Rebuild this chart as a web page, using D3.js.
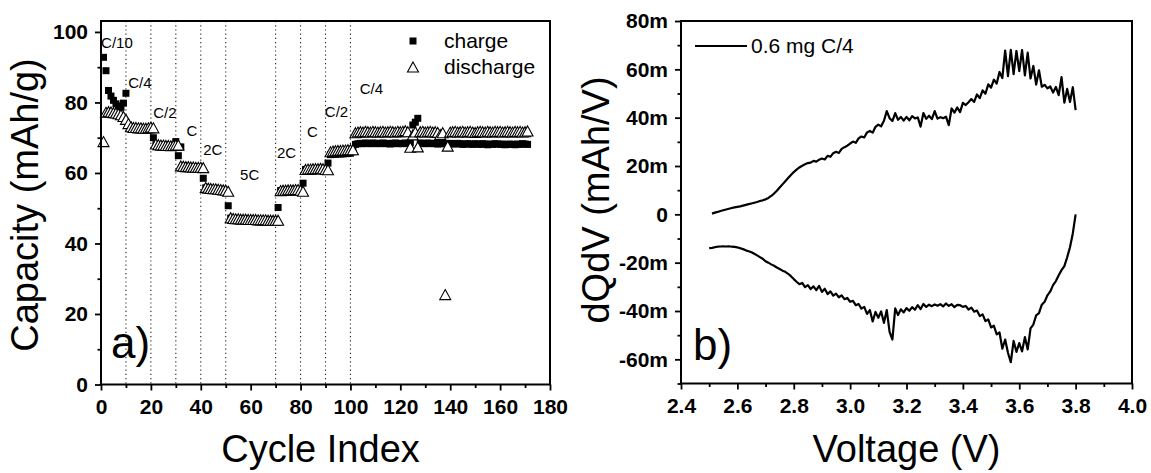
<!DOCTYPE html>
<html>
<head>
<meta charset="utf-8">
<script src="https://cdn.jsdelivr.net/npm/d3@7"></script>
<style>
  body { margin: 0; background: #fff; }
  svg { font-family: "Liberation Sans", Arial, sans-serif; }
  .tick text { font-weight: 700; font-size: 21px; font-family: "Liberation Sans Narrow", "Liberation Sans", Arial, sans-serif; }
</style>
</head>
<body>
<script>
// ---- panel a : rate capability (cycle index 1..171) ----
const chargeCap = [
  92.8, 89.0, 83.4, 81.8, 80.6, 79.6, 79.0, 78.6, 79.8, 82.6,
  73.6, 72.9, 72.8, 72.8, 72.7, 72.7, 72.6, 72.6, 72.6, 72.7,
  70.0, 68.0, 67.9, 67.9, 67.8, 67.8, 67.7, 67.7, 67.7, 68.9,
  64.9, 67.4, 62.0, 61.9, 61.8, 61.8, 61.7, 61.7, 61.6, 61.6,
  58.5, 55.8, 55.6, 55.5, 55.5, 55.4, 55.3, 55.3, 55.2, 55.1,
  50.7, 47.2, 47.0, 47.0, 46.9, 46.9, 46.9, 46.8, 46.8, 46.8,
  46.8, 46.7, 46.7, 46.7, 46.7, 46.7, 46.6, 46.6, 46.6, 46.6,
  50.2, 55.0, 55.0, 55.1, 55.1, 55.1, 55.2, 55.2, 55.2, 55.2,
  57.1, 61.0, 61.0, 61.1, 61.1, 61.1, 61.2, 61.2, 61.2, 61.2,
  62.8, 65.2, 65.3, 65.3, 65.4, 65.4, 65.4, 65.5, 65.5, 65.6,
  66.2, 68.1, 68.3, 68.4, 68.3, 68.5, 68.4, 68.3, 68.5, 68.4,
  68.3, 68.4, 68.5, 68.3, 68.4, 68.2, 68.4, 68.5, 68.3, 68.4,
  68.3, 68.5, 68.4, 68.6, 73.6, 74.4, 75.5, 68.5, 68.4, 68.3,
  68.5, 68.4, 68.3, 68.4, 68.2, 68.3, 68.4, 68.3, 68.2, 68.4,
  68.3, 68.2, 68.4, 68.3, 68.1, 68.2, 68.3, 68.2, 68.1, 68.3,
  68.2, 68.1, 68.3, 68.2, 68.0, 68.2, 68.1, 68.3, 68.2, 68.1,
  68.2, 68.0, 68.1, 68.2, 68.1, 68.0, 68.2, 68.1, 68.3, 68.2,
  68.1
];
const dischargeCap = [
  68.9, 77.2, 77.4, 77.3, 77.1, 77.0, 76.8, 76.5, 76.0, 75.2,
  74.0, 73.1, 72.9, 72.9, 72.8, 72.8, 72.7, 72.7, 72.8, 73.0,
  72.8, 68.2, 68.0, 67.9, 67.9, 67.8, 67.8, 67.7, 67.8, 67.9,
  67.9, 62.0, 61.9, 61.8, 61.8, 61.7, 61.7, 61.6, 61.6, 61.6,
  61.5, 55.9, 55.7, 55.6, 55.5, 55.5, 55.4, 55.3, 55.2, 55.1,
  54.8, 47.3, 47.1, 47.0, 47.0, 46.9, 46.9, 46.9, 46.8, 46.8,
  46.8, 46.8, 46.7, 46.7, 46.7, 46.7, 46.6, 46.6, 46.6, 46.6,
  46.6, 55.0, 55.1, 55.1, 55.2, 55.2, 55.2, 55.3, 55.3, 55.1,
  54.8, 61.0, 61.1, 61.1, 61.2, 61.2, 61.2, 61.3, 61.2, 61.0,
  60.9, 66.0, 66.2, 66.3, 66.4, 66.4, 66.5, 66.5, 66.6, 66.6,
  66.6, 71.4, 71.6, 71.7, 71.6, 71.8, 71.7, 71.6, 71.8, 71.7,
  71.6, 71.7, 71.8, 71.6, 71.7, 71.8, 71.7, 71.6, 71.8, 71.7,
  71.8, 72.0, 71.7, 67.3, 70.8, 71.6, 67.4, 71.7, 71.8, 71.6,
  71.7, 71.8, 71.6, 71.7, 71.5, 70.9, 71.4, 25.5, 67.6, 71.6,
  71.7, 71.8, 71.6, 71.7, 71.8, 71.6, 71.7, 71.8, 71.6, 71.5,
  71.7, 71.8, 71.7, 71.6, 71.8, 71.7, 71.6, 71.8, 71.7, 71.8,
  71.6, 71.7, 71.8, 71.7, 71.6, 71.8, 71.7, 71.8, 71.6, 71.7,
  71.9
];
const rateBounds = [10, 20, 30, 40, 50, 70, 80, 90, 100];
const rateLabels = ["C/10", "C/4", "C/2", "C", "2C", "5C", "2C", "C", "C/2", "C/4"];
const rateLabelCycle = [6.4, 15.6, 25.6, 36.4, 44.8, 59.6, 74.4, 84.8, 94.4, 108.4];
const rateLabelCap = [96.9, 85.5, 77.0, 72.0, 66.6, 59.5, 65.7, 71.7, 77.3, 83.9];
const cycleTicks = [0, 20, 40, 60, 80, 100, 120, 140, 160, 180];
const cycleMinor = [10, 30, 50, 70, 90, 110, 130, 150, 170];
const capTicks = [0, 20, 40, 60, 80, 100];
const capMinor = [10, 30, 50, 70, 90];

// ---- panel b : dQ/dV (values in mAh/V x 1e-3) ----
const voltage = [
  2.50, 2.51, 2.52, 2.53, 2.54, 2.55, 2.56, 2.57, 2.58, 2.59,
  2.60, 2.61, 2.62, 2.63, 2.64, 2.65, 2.66, 2.67, 2.68, 2.69,
  2.70, 2.71, 2.72, 2.73, 2.74, 2.75, 2.76, 2.77, 2.78, 2.79,
  2.80, 2.81, 2.82, 2.83, 2.84, 2.85, 2.86, 2.87, 2.88, 2.89,
  2.90, 2.91, 2.92, 2.93, 2.94, 2.95, 2.96, 2.97, 2.98, 2.99,
  3.00, 3.01, 3.02, 3.03, 3.04, 3.05, 3.06, 3.07, 3.08, 3.09,
  3.10, 3.11, 3.12, 3.13, 3.14, 3.15, 3.16, 3.17, 3.18, 3.19,
  3.20, 3.21, 3.22, 3.23, 3.24, 3.25, 3.26, 3.27, 3.28, 3.29,
  3.30, 3.31, 3.32, 3.33, 3.34, 3.35, 3.36, 3.37, 3.38, 3.39,
  3.40, 3.41, 3.42, 3.43, 3.44, 3.45, 3.46, 3.47, 3.48, 3.49,
  3.50, 3.51, 3.52, 3.53, 3.54, 3.55, 3.56, 3.57, 3.58, 3.59,
  3.60, 3.61, 3.62, 3.63, 3.64, 3.65, 3.66, 3.67, 3.68, 3.69,
  3.70, 3.71, 3.72, 3.73, 3.74, 3.75, 3.76, 3.77, 3.78, 3.79,
  3.80
];
const dqdvCharge = [
  null, 0.3, 0.7, 1.0, 1.4, 1.7, 2.0, 2.3, 2.6, 2.9,
  3.1, 3.3, 3.6, 3.9, 4.2, 4.5, 4.8, 5.1, 5.5, 5.8,
  6.2, 6.8, 7.6, 8.6, 9.8, 11.1, 12.4, 13.7, 15.0, 16.3,
  17.5, 18.5, 19.4, 20.1, 20.7, 21.2, 21.4, 22.1, 21.8, 22.6,
  23.1, 22.7, 24.2, 23.8, 25.3, 25.9, 25.4, 27.1, 27.8, 28.4,
  29.3, 30.1, 29.6, 31.4, 32.2, 31.8, 33.9, 34.5, 33.8, 36.2,
  37.1, 36.4, 38.7, 42.7, 39.8, 38.6, 41.9, 39.1, 40.3, 38.8,
  40.3, 38.9, 40.6, 39.7, 40.1, 36.3, 41.9, 39.5, 40.8, 39.4,
  42.7, 39.6, 40.2, 39.8, 40.4, 36.9, 43.8, 42.1, 44.2, 42.3,
  46.1, 45.2, 46.4, 47.7, 46.5, 49.6, 48.1, 51.3, 49.9, 53.8,
  52.4, 55.7, 54.1, 58.9, 56.4, 67.8, 57.2, 68.1, 58.0, 67.6,
  59.3, 68.0, 57.5, 66.9, 56.2, 61.4, 53.7, 59.6, 52.8, 53.6,
  52.1, 52.9, 50.4, 52.7, 49.3, 56.8, 46.2, 51.9, 46.5, 52.6,
  43.1
];
const dqdvDischarge = [
  -14.0, -13.9, -13.6, -13.4, -13.3, -13.2, -13.3, -13.2, -13.4, -13.5,
  -13.7, -14.0, -14.4, -14.9, -15.3, -15.7, -16.3, -17.0, -17.7, -18.4,
  -19.4, -20.0, -20.7, -21.3, -22.0, -22.6, -23.3, -23.8, -24.6, -25.6,
  -26.8, -27.9, -28.9, -28.4, -30.1, -29.3, -30.9, -29.8, -31.4, -29.6,
  -32.1, -30.8, -33.0, -31.9, -33.6, -32.8, -34.3, -33.5, -35.1, -34.6,
  -36.2, -35.8, -37.6, -37.1, -39.0, -38.3, -41.2, -39.6, -44.3, -40.4,
  -42.8, -40.2, -44.9, -39.6, -48.6, -51.8, -38.9, -41.7, -39.3, -40.6,
  -38.8, -39.9, -38.4, -39.5, -37.6, -39.2, -37.1, -38.3, -37.4, -38.0,
  -37.3, -37.8, -37.2, -38.1, -36.9, -37.9, -37.2, -38.4, -37.5, -37.6,
  -38.3, -37.9, -39.4, -38.6, -40.3, -39.8, -42.1, -41.4, -44.2, -43.5,
  -46.8, -46.1, -49.7, -48.9, -55.6, -51.8, -57.3, -61.2, -52.4, -56.9,
  -53.3, -56.7, -50.8, -55.9, -47.2, -45.6, -41.8, -40.9, -37.4, -36.2,
  -33.5, -31.9, -29.3, -27.6, -25.2, -23.1, -21.4, -17.8, -13.6, -7.9,
  0.0
];
const voltTicks = [2.4, 2.6, 2.8, 3.0, 3.2, 3.4, 3.6, 3.8, 4.0];
const voltMinor = [2.5, 2.7, 2.9, 3.1, 3.3, 3.5, 3.7, 3.9];
const dqdvTicks = [-60, -40, -20, 0, 20, 40, 60, 80];
const dqdvMinor = [-70, -50, -30, -10, 10, 30, 50, 70];

const width = 1151, height = 473;
const svg = d3.select("body").append("svg")
  .attr("width", width)
  .attr("height", height);

function drawAxes(x, y, xt, xm, yt, ym, xfmt, yfmt) {
  const x0 = x.range()[0], x1 = x.range()[1];
  const y0 = y.range()[0], y1 = y.range()[1];
  svg.append("g").attr("transform", `translate(0,${y0})`)
    .call(d3.axisBottom(x).tickValues(xt).tickFormat(xfmt).tickSize(6).tickSizeOuter(0).tickPadding(9));
  svg.append("g").attr("transform", `translate(0,${y0})`)
    .call(d3.axisBottom(x).tickValues(xm).tickFormat("").tickSize(3.5).tickSizeOuter(0));
  svg.append("g").attr("transform", `translate(${x0},0)`)
    .call(d3.axisLeft(y).tickValues(yt).tickFormat(yfmt).tickSize(6).tickSizeOuter(0).tickPadding(7));
  svg.append("g").attr("transform", `translate(${x0},0)`)
    .call(d3.axisLeft(y).tickValues(ym).tickFormat("").tickSize(3.5).tickSizeOuter(0));
  svg.selectAll(".tick line").attr("stroke", "#000").attr("stroke-width", 1.8);
  svg.selectAll(".tick text").attr("fill", "#000");
  svg.selectAll(".domain").attr("stroke", "none");
  svg.append("rect")
    .attr("x", x0).attr("y", y1)
    .attr("width", x1 - x0).attr("height", y0 - y1)
    .attr("fill", "none").attr("stroke", "#000").attr("stroke-width", 2);
}

// ================= panel a =================
const xA = d3.scaleLinear().domain([0, 180]).range([101, 550]);
const yA = d3.scaleLinear().domain([0, 103.1]).range([384.5, 21]);

svg.append("g").selectAll("line").data(rateBounds).join("line")
  .attr("x1", d => xA(d)).attr("x2", d => xA(d))
  .attr("y1", yA.range()[1]).attr("y2", yA.range()[0])
  .attr("stroke", "#222").attr("stroke-width", 1.1)
  .attr("stroke-dasharray", "1.2,3");

svg.append("g").selectAll("rect").data(chargeCap).join("rect")
  .attr("x", (d, i) => xA(i + 1) - 3.5)
  .attr("y", d => yA(d) - 3.5)
  .attr("width", 7).attr("height", 7)
  .attr("fill", "#000");

const tri = "M0,-5L5.5,5L-5.5,5Z";
svg.append("g").selectAll("path").data(dischargeCap).join("path")
  .attr("d", tri)
  .attr("transform", (d, i) => `translate(${xA(i + 1)},${yA(d)})`)
  .attr("fill", "#fff").attr("stroke", "#000").attr("stroke-width", 1.1);

svg.append("g").selectAll("text").data(rateLabels).join("text")
  .attr("x", (d, i) => xA(rateLabelCycle[i]))
  .attr("y", (d, i) => yA(rateLabelCap[i]))
  .attr("dy", "0.35em")
  .attr("text-anchor", "middle")
  .style("font-size", "15px")
  .text(d => d);

// legend a
svg.append("rect").attr("x", 409.5).attr("y", 37.5).attr("width", 7).attr("height", 7).attr("fill", "#000");
svg.append("text").attr("x", 444).attr("y", 41).attr("dy", "0.35em").style("font-size", "21px").text("charge");
svg.append("path").attr("d", tri).attr("transform", "translate(413,67)")
  .attr("fill", "#fff").attr("stroke", "#000").attr("stroke-width", 1.1);
svg.append("text").attr("x", 444).attr("y", 67).attr("dy", "0.35em").style("font-size", "21px").text("discharge");

svg.append("text").attr("x", 111).attr("y", 358).style("font-size", "44px").text("a)");

drawAxes(xA, yA, cycleTicks, cycleMinor, capTicks, capMinor, d3.format("d"), d3.format("d"));

svg.append("text")
  .attr("transform", "translate(38,205) rotate(-90)")
  .attr("text-anchor", "middle")
  .style("font-size", "38px")
  .text("Capacity (mAh/g)");
svg.append("text")
  .attr("x", xA(88)).attr("y", 462)
  .attr("text-anchor", "middle")
  .style("font-size", "38px")
  .text("Cycle Index");

// ================= panel b =================
const xB = d3.scaleLinear().domain([2.4, 4.0]).range([681, 1132]);
const yB = d3.scaleLinear().domain([-70, 80]).range([383.5, 21]);

const line = d3.line()
  .defined(d => d[1] !== null)
  .x(d => xB(d[0]))
  .y(d => yB(d[1]));

svg.append("path")
  .datum(voltage.map((v, i) => [v, dqdvCharge[i]]))
  .attr("d", line)
  .attr("fill", "none").attr("stroke", "#000").attr("stroke-width", 2.2)
  .attr("stroke-linejoin", "round");
svg.append("path")
  .datum(voltage.map((v, i) => [v, dqdvDischarge[i]]))
  .attr("d", line)
  .attr("fill", "none").attr("stroke", "#000").attr("stroke-width", 2.2)
  .attr("stroke-linejoin", "round");

// legend b
svg.append("line").attr("x1", 695).attr("x2", 747).attr("y1", 46).attr("y2", 46)
  .attr("stroke", "#000").attr("stroke-width", 2);
svg.append("text").attr("x", 751).attr("y", 46).attr("dy", "0.35em").style("font-size", "21px").text("0.6 mg C/4");

svg.append("text").attr("x", 693).attr("y", 360).style("font-size", "44px").text("b)");

drawAxes(xB, yB, voltTicks, voltMinor, dqdvTicks, dqdvMinor, d3.format(".1f"), d => d === 0 ? "0" : d + "m");

svg.append("text")
  .attr("transform", "translate(609,200) rotate(-90)")
  .attr("text-anchor", "middle")
  .style("font-size", "38px")
  .text("dQdV (mAh/V)");
svg.append("text")
  .attr("x", xB(3.2)).attr("y", 462)
  .attr("text-anchor", "middle")
  .style("font-size", "38px")
  .text("Voltage (V)");
</script>
</body>
</html>
